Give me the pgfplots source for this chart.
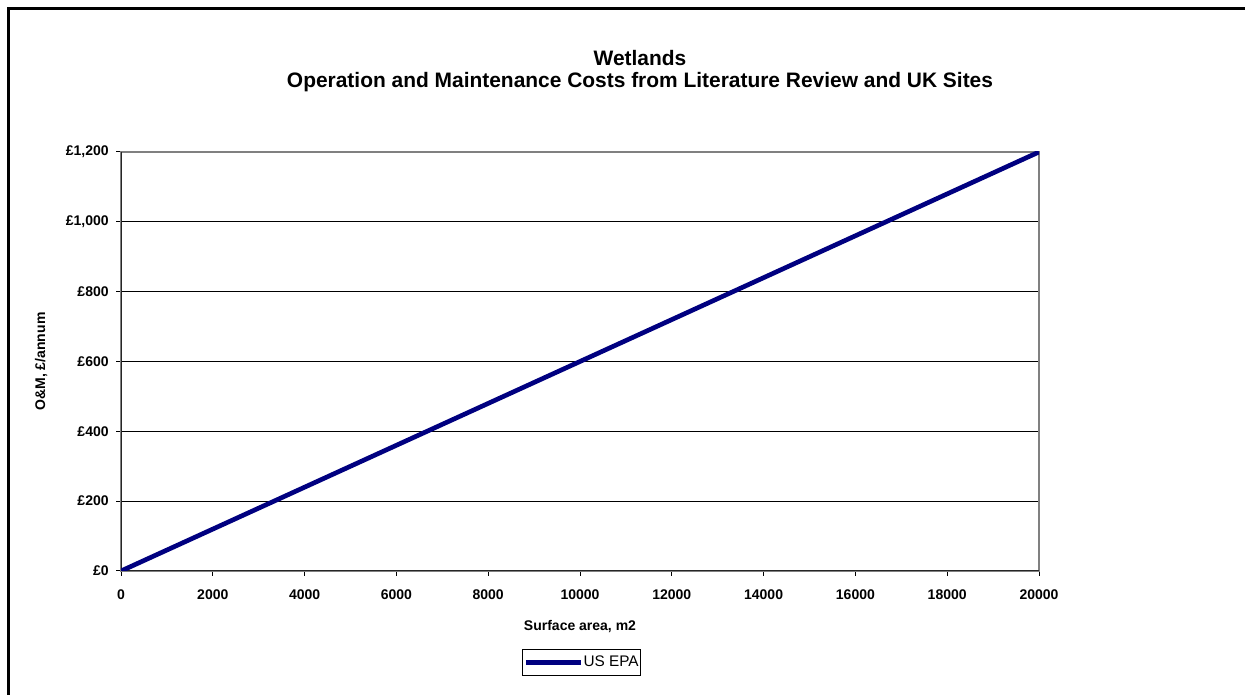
\documentclass[border=0pt]{standalone}
\usepackage{pgfplots}
\pgfplotsset{compat=1.18}
\usepackage{fontspec}
\setmainfont{Liberation Sans}
\definecolor{navyline}{HTML}{000080}
\definecolor{framegray}{HTML}{808080}
\begin{document}
\begin{tikzpicture}
\useasboundingbox (0,0) rectangle (933.75pt,521.25pt);
\fill[white] (0,0) rectangle (933.75pt,521.25pt);
\draw[black, line width=2.25pt] (6pt,0pt) -- (6pt,514.5pt) -- (933.75pt,514.5pt);
\node[font=\bfseries\fontsize{15.7}{18}\selectfont] at (480pt,478pt) {Wetlands};
\node[font=\bfseries\fontsize{15.7}{18}\selectfont] at (480pt,460pt) {Operation and Maintenance Costs from Literature Review and UK Sites};
\begin{axis}[
  at={(90.75pt,93pt)}, anchor=south west,
  scale only axis, width=688.5pt, height=314.25pt,
  xmin=0, xmax=20000, ymin=0, ymax=1200,
  scaled ticks=false,
  axis line style={draw=framegray, line width=1.5pt},
  tick align=outside, major tick length=3.75pt,
  tick style={black, line width=0.75pt},
  xtick={0,2000,4000,6000,8000,10000,12000,14000,16000,18000,20000},
  xticklabels={0,2000,4000,6000,8000,10000,12000,14000,16000,18000,20000},
  ytick={0,200,400,600,800,1000,1200},
  yticklabels={£0,£200,£400,£600,£800,{£1,000},{£1,200}},
  xtick pos=bottom, ytick pos=left,
  ymajorgrids, major grid style={black, line width=0.75pt},
  ticklabel style={font=\bfseries\fontsize{10.5}{12}\selectfont},
  xticklabel style={yshift=-7pt},
  yticklabel style={xshift=-2pt},
  xlabel={Surface area, m2},
  ylabel={O\&M, £/annum},
  label style={font=\bfseries\fontsize{10.5}{12}\selectfont},
  xlabel style={at={(axis description cs:0.5,-0.1313)}, anchor=center},
  ylabel style={at={(axis description cs:-0.0871,0.5)}, anchor=center, rotate=0},
  legend style={at={(0.5016,-0.2184)}, anchor=center, draw=black, line width=0.75pt,
    font=\fontsize{11.5}{13}\selectfont, inner xsep=1pt, inner ysep=3pt,
    nodes={inner xsep=0.5pt}},
  legend cell align=left,
  legend image code/.code={\draw[#1, line width=3.5pt] (0pt,0pt) -- (41pt,0pt);},
]
\draw[black!85, line width=1pt] (rel axis cs:0,1) -- (rel axis cs:0,0) -- (rel axis cs:1,0);
\addplot[navyline, line width=3.5pt] coordinates {(0,0) (20000,1200)};
\addlegendentry{US EPA}
\end{axis}
\end{tikzpicture}
\end{document}
